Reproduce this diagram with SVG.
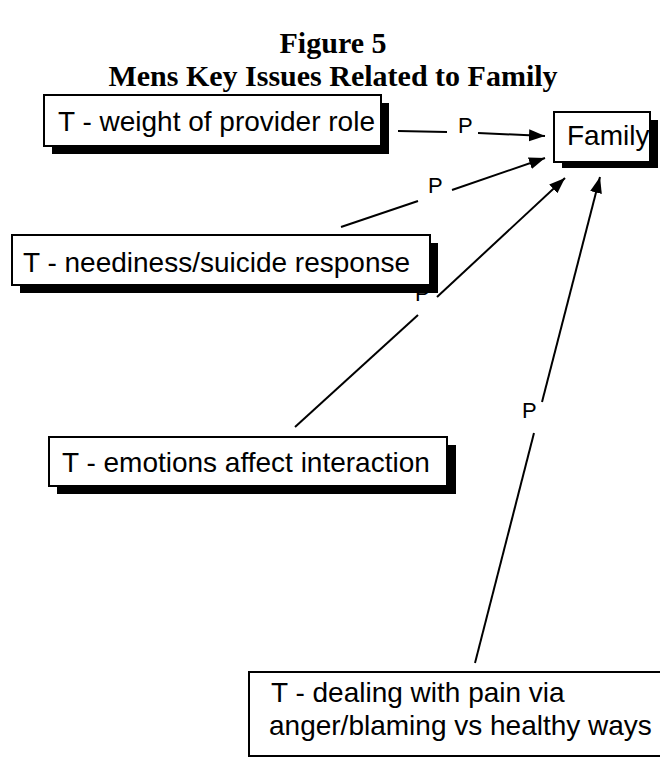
<svg xmlns="http://www.w3.org/2000/svg" width="660" height="757" viewBox="0 0 660 757">
<defs>
<style>
.title{font-family:"Liberation Serif","Times New Roman",serif;font-weight:bold;font-size:30px;fill:#000;text-anchor:middle}
.box{fill:#fff;stroke:#000;stroke-width:2}
.shadow{fill:#000}
.lbl{font-family:"Liberation Sans",Arial,sans-serif;font-size:28px;fill:#000}
.p{font-family:"Liberation Sans",Arial,sans-serif;font-size:22px;fill:#000}
.ln{stroke:#000;stroke-width:2;fill:none}
</style>
<marker id="ah" markerUnits="userSpaceOnUse" markerWidth="18" markerHeight="14" refX="16" refY="6" orient="auto">
<path d="M0,0 L16,6 L0,12 z" fill="#000"/>
</marker>
</defs>
<rect width="660" height="757" fill="#fff"/>
<text class="title" x="333" y="53">Figure 5</text>
<text class="title" x="333" y="86">Mens Key Issues Related to Family</text>
<g id="connectors">
<line class="ln" x1="398" y1="131" x2="447" y2="132"/>
<line class="ln" x1="478" y1="133" x2="545" y2="136" marker-end="url(#ah)"/>
<text class="p" x="458" y="133">P</text>
<line class="ln" x1="341" y1="227" x2="418" y2="201"/>
<line class="ln" x1="452" y1="190" x2="545" y2="158" marker-end="url(#ah)"/>
<text class="p" x="428" y="193">P</text>
<line class="ln" x1="295" y1="427" x2="418" y2="315"/>
<line class="ln" x1="437" y1="297" x2="565" y2="178" marker-end="url(#ah)"/>
<text class="p" x="415" y="301">P</text>
<line class="ln" x1="475" y1="663" x2="534" y2="433"/>
<line class="ln" x1="542" y1="402" x2="600" y2="177" marker-end="url(#ah)"/>
<text class="p" x="522" y="418">P</text>
</g>
<g id="family">
<rect class="shadow" x="562" y="120" width="96" height="48"/>
<rect class="box" x="554" y="112" width="96" height="50"/>
<text class="lbl" x="567" y="145">Family</text>
</g>
<g id="provider">
<rect class="shadow" x="52" y="103" width="337" height="51"/>
<rect class="box" x="44" y="95" width="337" height="51"/>
<text class="lbl" x="58" y="131">T - weight of provider role</text>
</g>
<g id="neediness">
<rect class="shadow" x="20" y="243" width="418" height="50"/>
<rect class="box" x="12" y="235" width="418" height="50"/>
<text class="lbl" x="23" y="272">T - neediness/suicide response</text>
</g>
<g id="emotions">
<rect class="shadow" x="57" y="445" width="399" height="49"/>
<rect class="box" x="49" y="437" width="398" height="49"/>
<text class="lbl" x="62" y="472">T - emotions affect interaction</text>
</g>
<g id="pain">
<rect class="box" x="249" y="672" width="416" height="84"/>
<text class="lbl" x="271" y="702">T - dealing with pain via</text>
<text class="lbl" x="269" y="735">anger/blaming vs healthy ways</text>
</g>
</svg>
